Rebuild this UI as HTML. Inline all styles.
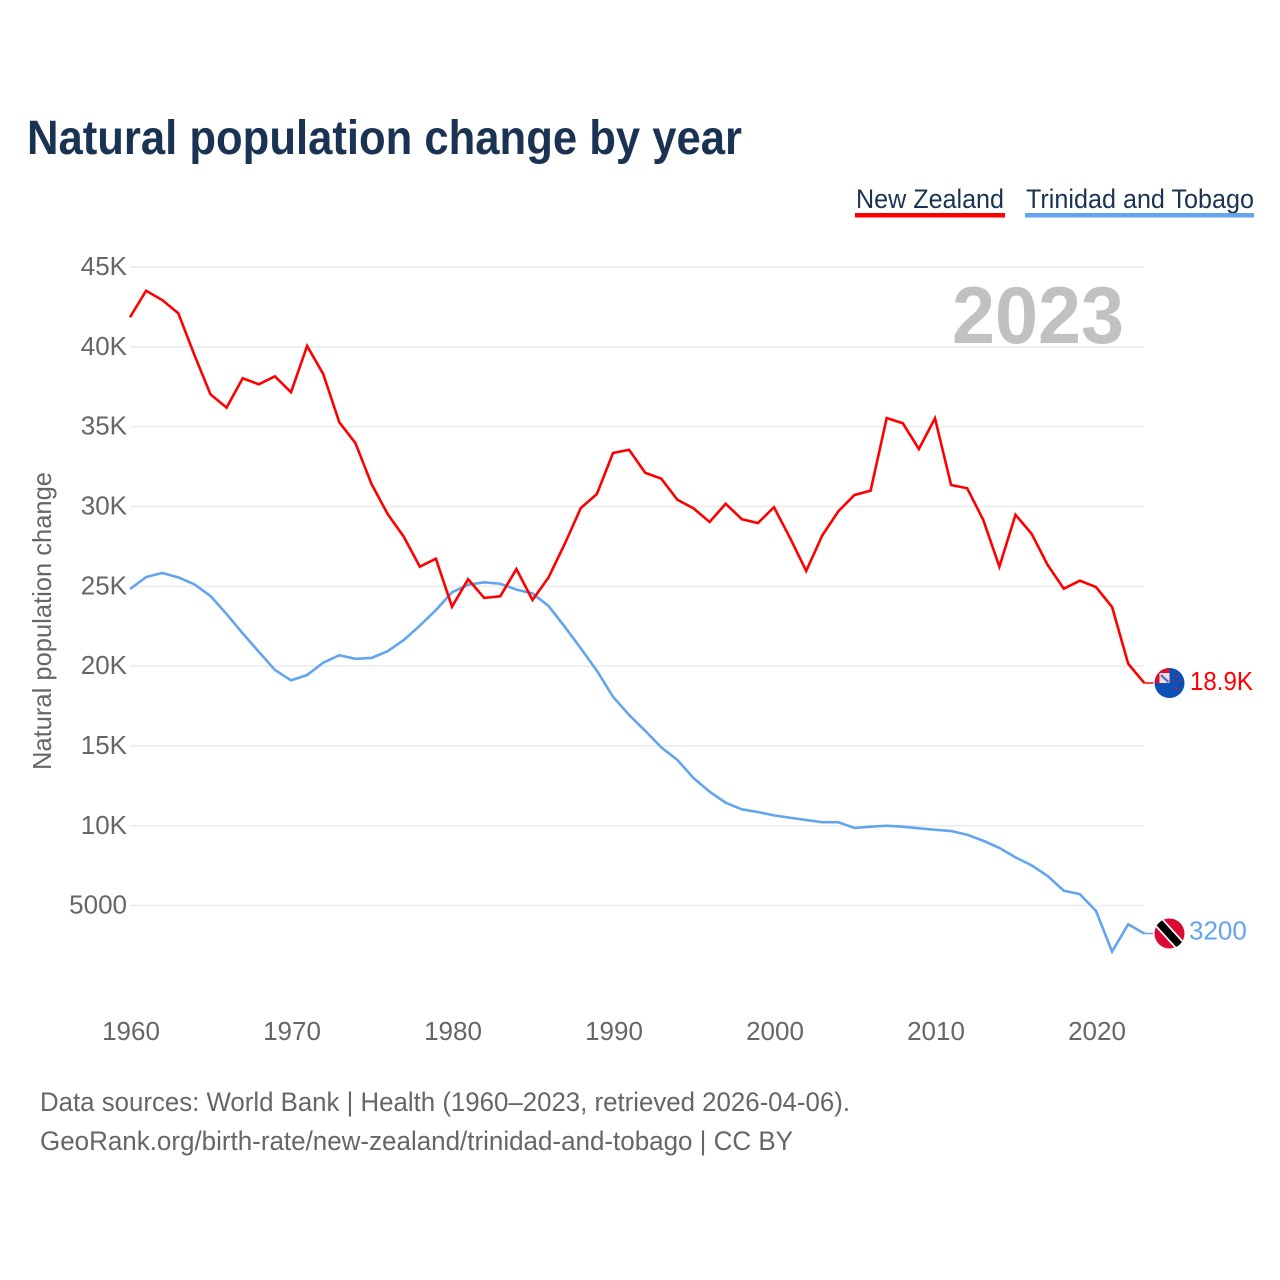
<!DOCTYPE html>
<html lang="en">
<head>
<meta charset="utf-8">
<title>Natural population change by year</title>
<style>
html,body{margin:0;padding:0;background:#fff;}
svg{display:block;}
text{font-family:"Liberation Sans",sans-serif;}
</style>
</head>
<body>
<svg id="chart" width="1280" height="1280" viewBox="0 0 1280 1280" xmlns="http://www.w3.org/2000/svg">
  <defs>
    <clipPath id="flag-clip"><circle cx="0" cy="0" r="15"></circle></clipPath>
  </defs>
  <rect width="1280" height="1280" fill="#ffffff"></rect>
  <text x="27" y="154" font-size="48" font-weight="700" fill="#1a3353" textLength="715" lengthAdjust="spacingAndGlyphs">Natural population change by year</text>

  <g>
    <text x="856" y="208" font-size="27" fill="#1a3353" textLength="148" lengthAdjust="spacingAndGlyphs">New Zealand</text>
    <rect x="855" y="213" width="150" height="4.5" fill="#ff0000"></rect>
  </g>
  <g>
    <text x="1026" y="208" font-size="27" fill="#1a3353" textLength="228" lengthAdjust="spacingAndGlyphs">Trinidad and Tobago</text>
    <rect x="1025" y="213" width="229" height="4.5" fill="#62a5ee"></rect>
  </g>

  <g id="grid"></g>
  <g id="y-ticks"></g>
  <g id="x-ticks"></g>

  <text transform="translate(51 621) rotate(-90)" text-anchor="middle" font-size="26" fill="#666666" textLength="298" lengthAdjust="spacingAndGlyphs">Natural population change</text>
  <text x="952" y="343" font-size="81" font-weight="700" fill="#c1c1c1" textLength="172" lengthAdjust="spacingAndGlyphs">2023</text>

  <g id="series"></g>

  <g id="flag-nz">
    <g clip-path="url(#flag-clip)">
      <rect x="-15" y="-15" width="30" height="30" fill="#0b50b4"></rect>
      <rect x="-15" y="-15" width="15" height="15" fill="#d8102f"></rect>
      <rect x="-10" y="-10" width="10" height="10" fill="#f4dfe3"></rect>
      <path d="M-8.5 -8 L-1 -1" stroke="#4a6fb8" stroke-width="2.2" fill="none"></path>
      <circle cx="7" cy="-7" r="1.2" fill="#d8102f"></circle>
      <circle cx="10.5" cy="-2.3" r="1" fill="#d8102f"></circle>
      <circle cx="3" cy="-2.3" r="1" fill="#d8102f"></circle>
      <circle cx="6.5" cy="5.7" r="1.3" fill="#d8102f"></circle>
    </g>
  </g>
  <g id="flag-tt">
    <g clip-path="url(#flag-clip)">
      <rect x="-15" y="-15" width="30" height="30" fill="#da0a34"></rect>
      <path d="M-16 -17 L16 18" stroke="#ffffff" stroke-width="11" fill="none"></path>
      <path d="M-16 -17 L16 18" stroke="#000000" stroke-width="7.5" fill="none"></path>
    </g>
  </g>

  <text id="label-nz" x="1190" font-size="26" fill="#ff0000" textLength="63" lengthAdjust="spacingAndGlyphs"></text>
  <text id="label-tt" x="1189" font-size="26" fill="#62a5ee"></text>

  <text x="40" y="1111" font-size="27" fill="#666666" textLength="810" lengthAdjust="spacingAndGlyphs">Data sources: World Bank | Health (1960–2023, retrieved 2026-04-06).</text>
  <text x="40" y="1150" font-size="27" fill="#666666" textLength="753" lengthAdjust="spacingAndGlyphs">GeoRank.org/birth-rate/new-zealand/trinidad-and-tobago | CC BY</text>
</svg>
<script>
const startYear = 1960;
const newZealand = [41.85,43.51,42.93,42.10,39.49,37.02,36.19,38.03,37.65,38.15,37.15,40.05,38.30,35.27,33.97,31.41,29.53,28.11,26.23,26.73,23.72,25.44,24.27,24.37,26.08,24.14,25.56,27.65,29.90,30.78,33.35,33.55,32.11,31.74,30.42,29.88,29.03,30.17,29.20,28.96,29.95,28.02,25.96,28.19,29.70,30.72,30.99,35.54,35.21,33.60,35.52,31.34,31.14,29.15,26.23,29.48,28.29,26.33,24.85,25.35,24.95,23.70,20.15,18.94];
const trinidadTobago = [24.83,25.58,25.83,25.56,25.12,24.39,23.26,22.05,20.90,19.76,19.11,19.44,20.21,20.68,20.46,20.51,20.93,21.63,22.53,23.51,24.62,25.10,25.25,25.16,24.79,24.56,23.76,22.47,21.11,19.71,18.08,16.94,15.95,14.91,14.12,12.99,12.13,11.44,11.03,10.86,10.65,10.50,10.36,10.22,10.22,9.86,9.94,10.00,9.94,9.84,9.75,9.67,9.44,9.06,8.61,8.02,7.52,6.85,5.93,5.71,4.66,2.11,3.83,3.25];
const yTickValues = [5,10,15,20,25,30,35,40,45];
const yTickLabels = ["5000","10K","15K","20K","25K","30K","35K","40K","45K"];
const xTickYears = [1960,1970,1980,1990,2000,2010,2020];
const endLabelNZ = "18.9K";
const endLabelTT = "3200";

const NS = "http://www.w3.org/2000/svg";
function xScale(year){ return 130 + (year - 1960) * 16.1; }
function yScale(v){ return 985.4 - v * 15.965; }
function make(tag, attrs, parent){
  const el = document.createElementNS(NS, tag);
  for (const k in attrs) el.setAttribute(k, attrs[k]);
  parent.appendChild(el);
  return el;
}

const gridG = document.getElementById("grid");
const yG = document.getElementById("y-ticks");
yTickValues.forEach(function(v, i){
  const line = make("line", {x1:130, x2:1144, y1:yScale(v), y2:yScale(v), stroke:"#ececec", "stroke-width":1.6}, gridG);
  
  
  const t = make("text", {x:127, y:yScale(v)+8, "text-anchor":"end", "font-size":26, fill:"#666666"}, yG);
  
  
  t.textContent = yTickLabels[i];
});

const xG = document.getElementById("x-ticks");
xTickYears.forEach(function(yr){
  const t = make("text", {x:xScale(yr)+1, y:1040, "text-anchor":"middle", "font-size":26, fill:"#666666"}, xG);
  
  
  t.textContent = String(yr);
});

function pathFor(values){
  return values.map(function(v, i){
    return (i ? "L" : "M") + xScale(startYear + i).toFixed(2) + " " + yScale(v).toFixed(2);
  }).join(" ");
}
const seriesG = document.getElementById("series");

const lineTT = make("path", {d:pathFor(trinidadTobago), fill:"none", stroke:"#62a5ee", "stroke-width":2.6, "stroke-linejoin":"miter"}, seriesG);



const lineNZ = make("path", {d:pathFor(newZealand), fill:"none", stroke:"#ff0000", "stroke-width":2.6, "stroke-linejoin":"miter"}, seriesG);



const lastYear = startYear + newZealand.length - 1;
const lastNZ = yScale(newZealand[newZealand.length - 1]);
const lastTT = yScale(trinidadTobago[trinidadTobago.length - 1]);

const leaderNZ = make("line", {x1:xScale(lastYear), x2:xScale(lastYear)+9, y1:lastNZ, y2:lastNZ, stroke:"#ff0000", "stroke-width":1.5}, seriesG);



const leaderTT = make("line", {x1:xScale(lastYear), x2:xScale(lastYear)+9, y1:lastTT, y2:lastTT, stroke:"#62a5ee", "stroke-width":1.5}, seriesG);



const flagX = xScale(lastYear) + 25.2;
document.getElementById("flag-nz").setAttribute("transform", "translate(" + flagX + " " + lastNZ + ")");
document.getElementById("flag-tt").setAttribute("transform", "translate(" + flagX + " " + lastTT + ")");

const labelNZ = document.getElementById("label-nz");
labelNZ.setAttribute("y", lastNZ + 7);
labelNZ.textContent = endLabelNZ;
const labelTT = document.getElementById("label-tt");
labelTT.setAttribute("y", lastTT + 6);
labelTT.textContent = endLabelTT;
</script>
</body>
</html>
